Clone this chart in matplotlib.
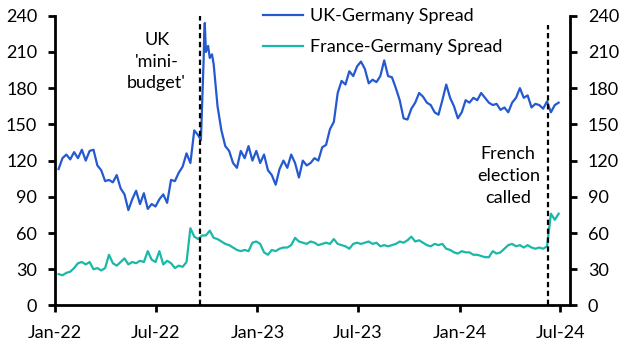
import numpy as np
import pandas as pd
import matplotlib
matplotlib.use('Agg')
import matplotlib.pyplot as plt
import matplotlib.dates as mdates

plt.rcParams['font.family'] = ['Lato', 'DejaVu Sans']

# weekly readings (Fridays), Jan 2022 - Jun 2024
week_dates = pd.date_range('2022-01-07', periods=130, freq='7D')

uk_de = [113, 122, 125, 121, 127, 122, 129, 120, 128, 129,
         116, 112, 103, 104, 102, 108, 97, 92, 79, 88,
         95, 84, 93, 80, 84, 82, 88, 92, 85, 104,
         103, 110, 115, 126, 118, 145, 141, 165, 210, 205,
         200, 165, 145, 132, 128, 118, 114, 128, 122, 132,
         120, 128, 118, 125, 112, 108, 100, 113, 120, 114,
         125, 118, 106, 120, 116, 118, 122, 120, 131, 133,
         146, 152, 176, 186, 183, 194, 190, 198, 202, 196,
         184, 187, 185, 190, 203, 190, 189, 180, 170, 155,
         154, 163, 168, 176, 173, 168, 166, 160, 158, 170,
         183, 172, 165, 155, 160, 170, 168, 172, 170, 176,
         172, 168, 166, 167, 162, 164, 160, 168, 172, 180,
         172, 174, 164, 167, 166, 163, 169, 160, 166, 168]

# extra daily readings around the 'mini-budget'
uk_extra_dates = pd.to_datetime(['2022-09-21', '2022-09-26', '2022-09-27', '2022-09-28',
                                 '2022-10-04', '2022-10-11', '2022-10-18'])
uk_extra = [137, 205, 226, 234, 215, 208, 180]

fr_de = [26, 25, 27, 28, 31, 35, 36, 34, 36, 30,
         31, 29, 31, 42, 35, 33, 36, 39, 34, 36,
         35, 37, 36, 45, 38, 36, 45, 34, 37, 35,
         31, 33, 32, 36, 64, 57, 55, 58, 58, 62,
         56, 55, 53, 51, 50, 48, 46, 45, 46, 45,
         52, 53, 51, 44, 42, 46, 45, 47, 48, 48,
         50, 56, 53, 52, 51, 53, 52, 50, 51, 52,
         51, 55, 51, 50, 49, 47, 51, 52, 51, 52,
         53, 51, 52, 49, 50, 49, 50, 51, 53, 52,
         54, 57, 53, 54, 52, 50, 49, 51, 50, 51,
         47, 46, 44, 43, 45, 44, 44, 42, 42, 41,
         40, 40, 45, 43, 44, 47, 50, 51, 49, 50,
         48, 50, 48, 47, 48, 47, 49, 76, 71, 76]

event_dates = pd.to_datetime(['2022-09-20', '2024-06-09'])
event_tops = [240, 232]
event_labels = ["UK\n'mini-\nbudget'", "French\nelection\ncalled"]
event_label_pos = [(pd.Timestamp('2022-07-03'), 202), (pd.Timestamp('2024-03-29'), 107)]

uk = pd.Series(uk_de, index=week_dates)
uk = pd.concat([uk, pd.Series(uk_extra, index=uk_extra_dates)]).sort_index()
fr = pd.Series(fr_de, index=week_dates)

blue = '#2459d0'
teal = '#1ab8a6'

fig = plt.figure(figsize=(6.31, 3.57), dpi=100)
ax = fig.add_axes([0.0876, 0.1443, 0.8153, 0.8117])

ax.plot(uk.index, uk.values, color=blue, lw=1.6, label='UK-Germany Spread')
ax.plot(fr.index, fr.values, color=teal, lw=1.6, label='France-Germany Spread')

for d, top in zip(event_dates, event_tops):
    ax.vlines(d, 0, top, colors='black', lw=1.6, linestyles=(0, (2.4, 1.6)))
for (x, y), txt in zip(event_label_pos, event_labels):
    ax.text(x, y, txt, ha='center', va='center', fontsize=13, linespacing=1.45)

ax.set_ylim(0, 240)
ax.set_yticks(np.arange(0, 241, 30))
ax.set_xlim(pd.Timestamp('2022-01-01'), pd.Timestamp('2024-07-18'))
ax.xaxis.set_major_locator(mdates.MonthLocator(bymonth=(1, 7)))
ax.xaxis.set_major_formatter(mdates.DateFormatter('%b-%y'))

ax2 = ax.twinx()
ax2.set_ylim(0, 240)
ax2.set_yticks(np.arange(0, 241, 30))

for a in (ax, ax2):
    a.spines['top'].set_visible(False)
    for s in ('left', 'right', 'bottom'):
        a.spines[s].set_linewidth(2)
    a.tick_params(width=2, length=5, labelsize=13, pad=8)
ax.tick_params(axis='x', pad=9)
ax.spines['right'].set_visible(False)
ax2.spines['left'].set_visible(False)
ax2.spines['bottom'].set_visible(False)

ax.legend(loc='upper left', bbox_to_anchor=(0.4168, 0.978), bbox_transform=fig.transFigure,
          frameon=False, fontsize=13, handlelength=2.2, handletextpad=0.4,
          labelspacing=0.85, borderpad=0, borderaxespad=0)

fig.savefig('out.png', dpi=100)
